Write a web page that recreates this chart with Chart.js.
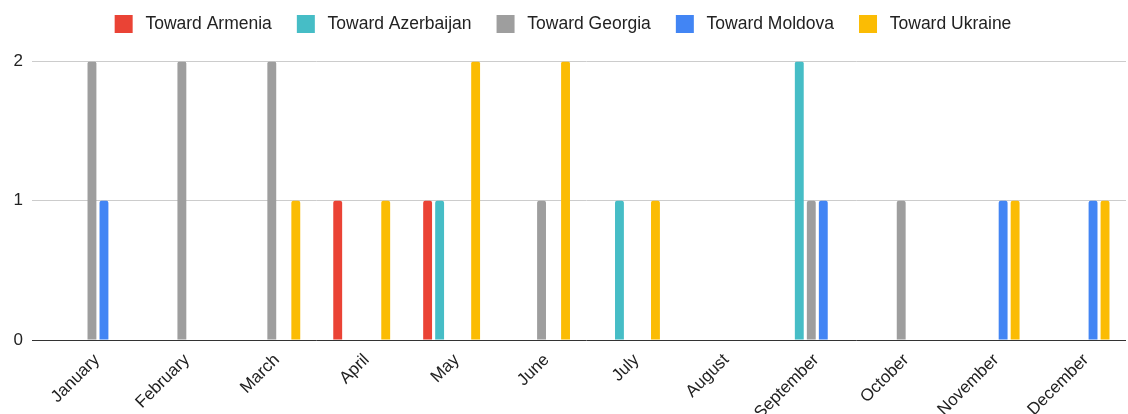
<!DOCTYPE html>
<html>
<head>
<meta charset="utf-8">
<script src="https://cdn.jsdelivr.net/npm/chart.js@4/dist/chart.umd.min.js"></script>
<style>
  html, body { margin: 0; padding: 0; background: #fff; }
  #wrap { width: 1128px; height: 414px; }
</style>
</head>
<body>
<div id="wrap"><canvas id="c" width="1128" height="414"></canvas></div>
<script>
const months = ["January","February","March","April","May","June","July","August","September","October","November","December"];
const seriesNames = ["Toward Armenia","Toward Azerbaijan","Toward Georgia","Toward Moldova","Toward Ukraine"];
const towardArmenia    = [0,0,0,1,1,0,0,0,0,0,0,0];
const towardAzerbaijan = [0,0,0,0,1,0,1,0,2,0,0,0];
const towardGeorgia    = [2,2,2,0,0,1,0,0,1,1,0,0];
const towardMoldova    = [1,0,0,0,0,0,0,0,1,0,1,1];
const towardUkraine    = [0,0,1,1,2,2,1,0,0,0,1,1];
const yTicks = [0,1,2];
const colors = ["#EA4335","#46BDC6","#9E9E9E","#4285F4","#FBBC04"];

const values = [towardArmenia, towardAzerbaijan, towardGeorgia, towardMoldova, towardUkraine];
const FONT = "Arial, 'Liberation Sans', sans-serif";

const legendShift = {
  id: 'legendShift',
  afterLayout(chart) {
    const l = chart.legend;
    if (l) { l.top -= 14.5; l.bottom -= 14.5; l.left -= 2; l.right -= 2; }
  }
};

new Chart(document.getElementById('c'), {
  type: 'bar',
  data: {
    labels: months,
    datasets: seriesNames.map((name, i) => ({
      label: name,
      data: values[i],
      backgroundColor: colors[i],
      borderWidth: 0,
      borderRadius: 2,
      categoryPercentage: 0.6674,
      barPercentage: 0.74
    }))
  },
  options: {
    responsive: false,
    animation: false,
    layout: { padding: { top: 4.5, right: 2, left: 0, bottom: 0 } },
    plugins: {
      tooltip: { enabled: false },
      legend: {
        position: 'top',
        align: 'center',
        labels: {
          font: { family: FONT, size: 17.5 },
          color: '#222',
          boxWidth: 26,
          boxHeight: 26,
          padding: 21,
          generateLabels(chart) {
            const items = Chart.defaults.plugins.legend.labels.generateLabels(chart);
            return items.map(it => Object.assign(it, { strokeStyle: '#ffffff', lineWidth: 8, borderRadius: 0 }));
          }
        }
      }
    },
    scales: {
      x: {
        grid: { display: false },
        border: { display: false },
        ticks: {
          font: { family: FONT, size: 17 },
          color: '#222',
          maxRotation: 45,
          minRotation: 45,
          autoSkip: false,
          padding: 2,
          labelOffset: 5
        },
        afterFit(scale) { scale.height = 74; }
      },
      y: {
        min: 0,
        max: 2,
        border: { display: false },
        afterBuildTicks(scale) { scale.ticks = yTicks.map(v => ({ value: v })); },
        grid: {
          color: ctx => (ctx.tick && ctx.tick.value === 0) ? '#333333' : '#cccccc',
          lineWidth: 1,
          drawTicks: true,
          tickLength: 15
        },
        ticks: {
          font: { family: FONT, size: 17 },
          color: '#222',
          padding: 9
        },
        afterFit(scale) { scale.width = 47; }
      }
    }
  },
  plugins: [legendShift]
});
</script>
</body>
</html>
